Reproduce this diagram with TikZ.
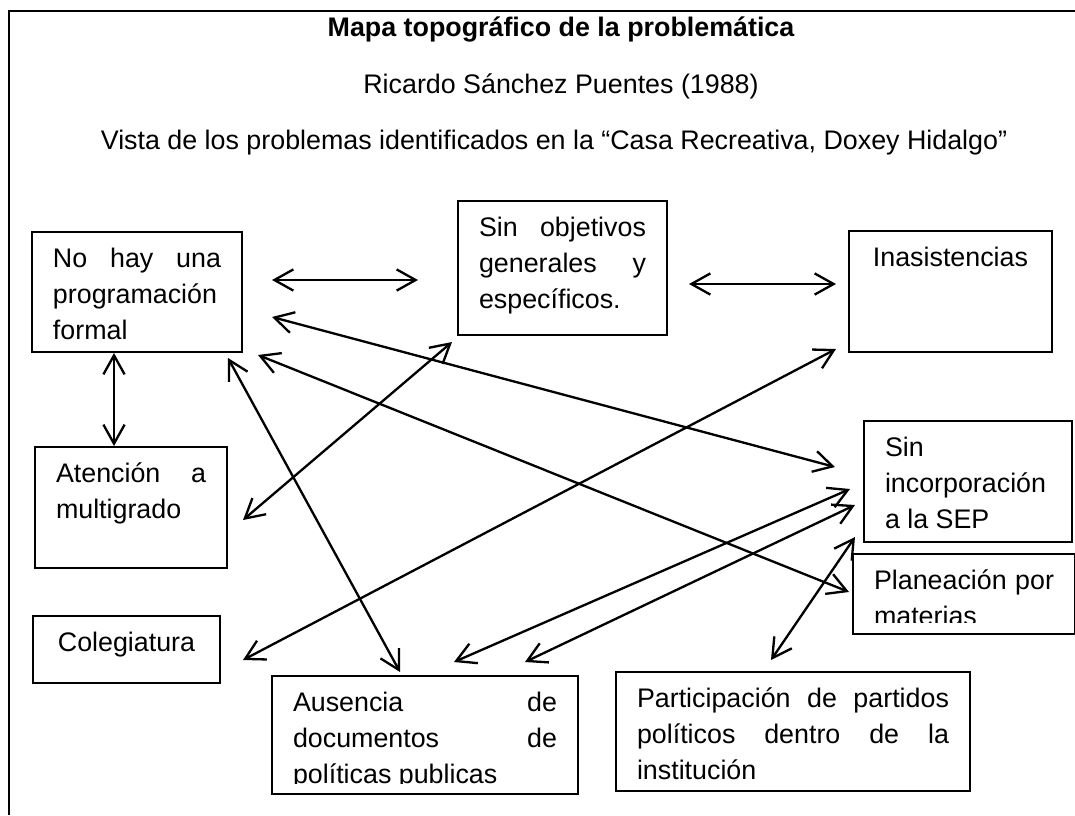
\documentclass[tikz,border=0pt]{standalone}
\usepackage{fontspec}
\setmainfont{Liberation Sans}
\usetikzlibrary{arrows.meta,positioning}
\newlength\pxu
\setlength\pxu{0.4528pt}
\hyphenpenalty=10000
\tolerance=10000
\hbadness=10000

\tikzset{
  probbox/.style 2 args={draw, line width=0.6pt, anchor=north west, outer sep=0pt,
    inner xsep=21\pxu, inner ysep=0pt, align=justify,
    text width=#1\pxu, text height=35\pxu, text depth=#2\pxu},
  cenbox/.style 2 args={probbox={#1}{#2}, align=center},
  boxline/.style={draw, line width=0.6pt},
  dbl/.style={<->, line width=1.05pt, >={Straight Barb[length=8.6pt,width=9.6pt]}},
  headline/.style={anchor=base}
}

\begin{document}
\begin{tikzpicture}[x=0.4528pt, y=-0.4528pt, font=\fontsize{12.15pt}{16.3pt}\selectfont]
    \useasboundingbox (0,0) rectangle (1075,815);
    \draw[line width=0.6pt] (9,815) -- (9,11) -- (1075,11);

    \node (titulo) [headline] at (561,36) {\bfseries Mapa topográfico de la problemática};
    \node (autor) [headline] at (561,93) {Ricardo Sánchez Puentes (1988)};
    \node (vista) [headline] at (554,149) {Vista de los problemas identificados en la “Casa Recreativa, Doxey Hidalgo”};

    \node (prog) [probbox={168}{85}] at (32,232) {No hay una\linebreak programación\linebreak formal};
    \node (obj) [probbox={167}{99}] at (458,201) {Sin objetivos\linebreak generales y\linebreak específicos.};
    \node (inas) [cenbox={161}{86}] at (849,231) {Inasistencias};
    \node (aten) [probbox={150}{86}] at (35,447) {Atención a\linebreak multigrado};
    \node (sinc) [probbox={166}{86}] at (864,421) {Sin\linebreak incorporación\linebreak a la SEP};
    \begin{scope}
      \clip (850,550) rectangle (1075,622);
      \node (plan) [probbox={180}{45}] at (853,554) {Planeación por\linebreak materias};
    \end{scope}
    \draw[boxline] (plan.north west) rectangle (plan.south east);
    \node (coleg) [cenbox={145}{32}] at (33,616) {Colegiatura};
    \begin{scope}
      \clip (268,672) rectangle (582,783);
      \node (aus) [probbox={264}{83}] at (272,676) {Ausencia de\linebreak documentos de\linebreak políticas publicas};
    \end{scope}
    \draw[boxline] (aus.north west) rectangle (aus.south east);
    \node (part) [probbox={312}{84}] at (616,672) {Participación de partidos\linebreak políticos dentro de la\linebreak institución};

    \draw[dbl] ([shift={(30,-12)}]prog.east) -- ([shift={(-40,12)}]obj.west);
    \draw[dbl] ([shift={(22,16)}]obj.east) -- ([shift={(-13,-7.5)}]inas.west);
    \draw[dbl] ([shift={(-23,1)}]prog.south) -- ([shift={(-17,-1)}]aten.north);
    \draw[dbl] ([shift={(30,25)}]prog.east) -- ([shift={(-29,-14.5)}]sinc.west);
    \draw[dbl] ([shift={(16,3)}]prog.south east) -- ([shift={(-4,-2)}]plan.west);
    \draw[dbl] ([shift={(-14,6)}]prog.south east) -- ([shift={(-25,-4)}]aus.north);
    \draw[dbl] ([shift={(-6,7)}]obj.south west) -- ([shift={(16,12.5)}]aten.east);
    \draw[dbl] ([shift={(-13,-3)}]inas.south west) -- ([shift={(23,10.5)}]coleg.east);
    \draw[dbl] ([shift={(-14,7.5)}]sinc.west) -- ([shift={(29,-14)}]aus.north);
    \draw[dbl] ([shift={(-9,23.5)}]sinc.west) -- ([shift={(100,-14)}]aus.north);
    \draw[dbl] ([shift={(-9,-5)}]sinc.south west) -- ([shift={(-22,-12)}]part.north);
\end{tikzpicture}
\end{document}
